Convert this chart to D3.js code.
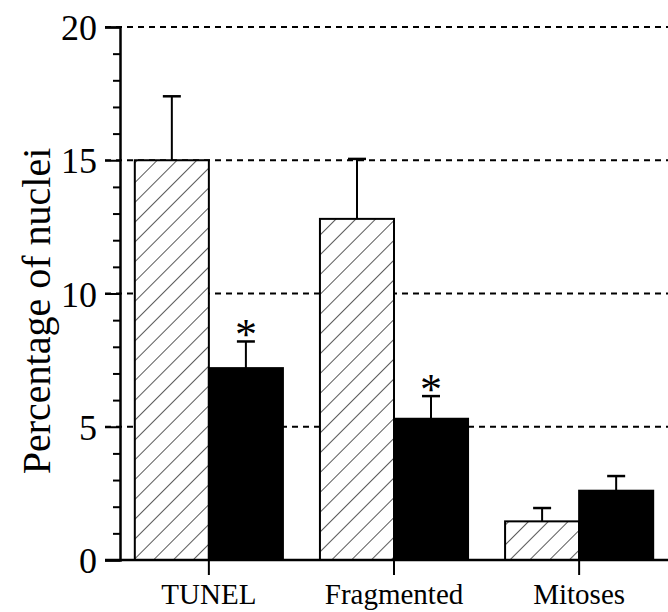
<!DOCTYPE html>
<html>
<head>
<meta charset="utf-8">
<script src="https://cdn.jsdelivr.net/npm/d3@7"></script>
<style>
  body { margin: 0; background: #fff; }
  svg text { font-family: "Liberation Serif", "Times New Roman", Times, serif; fill: #000; }
</style>
</head>
<body>
<script>
var width = 668, height = 612;
var margin = {left: 120, right: 0, top: 27, bottom: 52};

// data
var categories = ["TUNEL", "Fragmented", "Mitoses"];
var controlMean = [15.0, 12.8, 1.45];
var controlErr  = [2.4, 2.25, 0.5];
var treatedMean = [7.2, 5.3, 2.6];
var treatedErr  = [1.0, 0.85, 0.55];
var significant = [true, true, false];
var yTicks = [0, 5, 10, 15, 20];

var svg = d3.select("body").append("svg")
  .attr("width", width).attr("height", height);

var defs = svg.append("defs");
var pat = defs.append("pattern")
  .attr("id", "hatch")
  .attr("patternUnits", "userSpaceOnUse")
  .attr("width", 14).attr("height", 14)
  .attr("patternTransform", "rotate(45)");
pat.append("rect").attr("width", 14).attr("height", 14).attr("fill", "#fff");
pat.append("line")
  .attr("x1", 0).attr("y1", 0).attr("x2", 0).attr("y2", 14)
  .attr("stroke", "#000").attr("stroke-width", 1.3);

var x = d3.scaleBand()
  .domain(categories)
  .range([margin.left, width])
  .paddingInner(0.2)
  .paddingOuter(0.08);

var sub = d3.scaleBand()
  .domain(["control", "treated"])
  .range([0, x.bandwidth()]);

var y = d3.scaleLinear()
  .domain([0, 20])
  .range([height - margin.bottom, margin.top]);

// dashed gridlines
svg.append("g").selectAll("line")
  .data(yTicks.filter(function(d){ return d > 0; }))
  .enter().append("line")
  .attr("x1", margin.left - 15).attr("x2", width)
  .attr("y1", function(d){ return y(d); })
  .attr("y2", function(d){ return y(d); })
  .attr("stroke", "#000").attr("stroke-width", 2)
  .attr("stroke-dasharray", "6,5");

var rows = categories.map(function(c, i){
  return [
    {cat: c, key: "control", v: controlMean[i], e: controlErr[i]},
    {cat: c, key: "treated", v: treatedMean[i], e: treatedErr[i], sig: significant[i]}
  ];
});
var flat = [].concat.apply([], rows);

function cx(d){ return x(d.cat) + sub(d.key) + sub.bandwidth() / 2; }

// error bars (upper only)
var eb = svg.append("g").selectAll("g").data(flat).enter().append("g");
eb.append("line")
  .attr("x1", cx).attr("x2", cx)
  .attr("y1", function(d){ return y(d.v); })
  .attr("y2", function(d){ return y(d.v + d.e); })
  .attr("stroke", "#000").attr("stroke-width", 2);
eb.append("line")
  .attr("x1", function(d){ return cx(d) - 9; })
  .attr("x2", function(d){ return cx(d) + 9; })
  .attr("y1", function(d){ return y(d.v + d.e); })
  .attr("y2", function(d){ return y(d.v + d.e); })
  .attr("stroke", "#000").attr("stroke-width", 2.5);

// bars
svg.append("g").selectAll("rect").data(flat).enter().append("rect")
  .attr("x", function(d){ return x(d.cat) + sub(d.key); })
  .attr("width", sub.bandwidth())
  .attr("y", function(d){ return y(d.v); })
  .attr("height", function(d){ return y(0) - y(d.v); })
  .attr("fill", function(d){ return d.key === "control" ? "url(#hatch)" : "#000"; })
  .attr("stroke", "#000").attr("stroke-width", 2);

// asterisks
svg.append("g").selectAll("text")
  .data(flat.filter(function(d){ return d.sig; }))
  .enter().append("text")
  .attr("x", cx)
  .attr("y", function(d){ return y(d.v + d.e) + 8; })
  .attr("text-anchor", "middle")
  .style("font-size", "44px")
  .text("*");

// y axis
var yAxis = d3.axisLeft(y).tickValues(yTicks).tickSize(15).tickPadding(8);
var gy = svg.append("g")
  .attr("transform", "translate(" + margin.left + ",0)")
  .call(yAxis);
gy.select(".domain").attr("stroke-width", 2.5);
gy.selectAll(".tick line").attr("stroke-width", 2);
gy.selectAll("text").style("font-size", "36px").attr("dy", "0.35em");

var minor = svg.append("g").attr("transform", "translate(" + margin.left + ",0)");
minor.call(d3.axisLeft(y).tickValues(d3.range(0, 21).filter(function(d){ return d % 5 !== 0; })).tickSize(7).tickFormat(""));
minor.select(".domain").remove();
minor.selectAll(".tick line").attr("stroke-width", 2);

// x axis
var xAxis = d3.axisBottom(x).tickSize(15).tickPadding(8).tickSizeOuter(0);
var gx = svg.append("g")
  .attr("transform", "translate(0," + y(0) + ")")
  .call(xAxis);
gx.select(".domain").attr("stroke-width", 2.5).attr("d", "M" + (margin.left - 15) + ",0H" + width);
gx.selectAll(".tick line").attr("stroke-width", 2);
gx.selectAll("text").style("font-size", "29px").attr("dy", "0").attr("y", 44);

// y axis title
svg.append("text")
  .attr("transform", "translate(50," + 311 + ") rotate(-90)")
  .attr("text-anchor", "middle")
  .style("font-size", "40px")
  .text("Percentage of nuclei");
</script>
</body>
</html>
